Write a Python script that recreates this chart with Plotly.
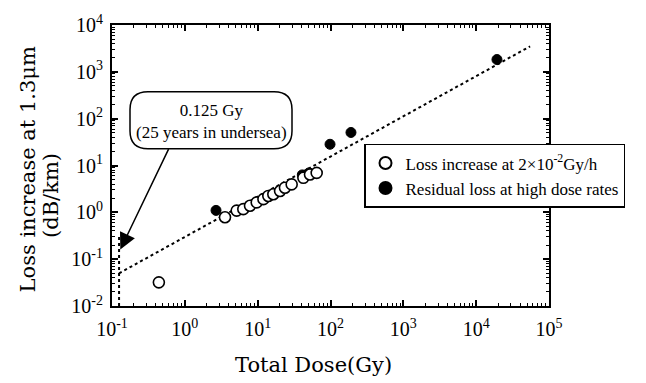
import numpy as np
import plotly.graph_objects as go

# ---- data ----
open_dose = [0.44, 3.56, 5.15, 6.35, 7.85, 9.7, 12.0, 14.0, 16.4, 20.3, 23.7, 29.3, 42.4, 52.3, 64.6]
open_loss = [0.032, 0.785, 1.09, 1.17, 1.38, 1.63, 1.91, 2.24, 2.43, 2.86, 3.36, 3.95, 5.46, 6.41, 6.95]

filled_dose = [2.68, 41.0, 50.7, 98.5, 191.0, 19300.0]
filled_loss = [1.10, 6.3, 6.95, 28.4, 50.7, 1830.0]

fit_dose = [0.125, 55000.0]
fit_loss = [0.05, 3500.0]

mark_dose = [0.125, 0.125]
mark_loss = [0.01, 0.3]

tick_vals_x = [0.1, 1, 10, 100, 1000, 10000, 100000]
tick_text_x = ["10<sup>-1</sup>", "10<sup>0</sup>", "10<sup>1</sup>", "10<sup>2</sup>",
               "10<sup>3</sup>", "10<sup>4</sup>", "10<sup>5</sup>"]
tick_vals_y = [0.01, 0.1, 1, 10, 100, 1000, 10000]
tick_text_y = ["10<sup>-2</sup>", "10<sup>-1</sup>", "10<sup>0</sup>", "10<sup>1</sup>",
               "10<sup>2</sup>", "10<sup>3</sup>", "10<sup>4</sup>"]
minor_digits = [2, 3, 4, 5, 6, 7, 8, 9]

legend_open = "Loss increase at 2\u00d710<sup>-2</sup>Gy/h"
legend_filled = "Residual loss at high dose rates"
box_text = "0.125 Gy<br>(25 years in undersea)"
x_title = "Total Dose(Gy)"
y_title1 = "Loss increase at 1.3\u03bcm"
y_title2 = "(dB/km)"

# ---- layout geometry ----
W, H = 646, 383
ML, MR, MT, MB = 112, 97, 20, 77
PW, PH = W - ML - MR, H - MT - MB


def px(x):
    return (x - ML) / PW


def py(y):
    return (MT + PH - y) / PH


def minor_vals(majors):
    return [m * d for m in majors[:-1] for d in minor_digits]


fig = go.Figure()

fig.add_trace(go.Scatter(x=fit_dose, y=fit_loss, mode="lines",
                         line=dict(color="black", width=2, dash="dot"),
                         showlegend=False, hoverinfo="skip"))
fig.add_trace(go.Scatter(x=mark_dose, y=mark_loss, mode="lines",
                         line=dict(color="black", width=2, dash="dot"),
                         showlegend=False, hoverinfo="skip"))
fig.add_trace(go.Scatter(x=filled_dose, y=filled_loss, mode="markers", name=legend_filled,
                         marker=dict(symbol="circle", size=10, color="black",
                                     line=dict(color="black", width=1)),
                         legendrank=2))
fig.add_trace(go.Scatter(x=open_dose, y=open_loss, mode="markers", name=legend_open,
                         marker=dict(symbol="circle", size=11, color="white",
                                     line=dict(color="black", width=1.6)),
                         legendrank=1))

axis_common = dict(type="log", showgrid=False, zeroline=False, showline=True,
                   linecolor="black", linewidth=2, mirror="allticks",
                   ticks="inside", ticklen=6, tickwidth=1.5, tickcolor="black",
                   tickfont=dict(family="Liberation Serif", size=20, color="black"))

fig.update_xaxes(range=[-1, 5], tickmode="array", tickvals=tick_vals_x, ticktext=tick_text_x,
                 ticklabelstandoff=4,
                 minor=dict(tickmode="array", tickvals=minor_vals(tick_vals_x), ticks="inside",
                            ticklen=3, tickwidth=1.2, tickcolor="black", showgrid=False),
                 **axis_common)
fig.update_yaxes(range=[-2, 4], tickmode="array", tickvals=tick_vals_y, ticktext=tick_text_y,
                 ticklabelstandoff=3,
                 minor=dict(tickmode="array", tickvals=minor_vals(tick_vals_y), ticks="inside",
                            ticklen=3, tickwidth=1.2, tickcolor="black", showgrid=False),
                 **axis_common)

# rounded annotation box
x0, x1, y0, y1, r = 130, 292, 88, 146, 18
path = (f"M {px(x0 + r)},{py(y0)} L {px(x1 - r)},{py(y0)} "
        f"Q {px(x1)},{py(y0)} {px(x1)},{py(y0 + r)} L {px(x1)},{py(y1 - r)} "
        f"Q {px(x1)},{py(y1)} {px(x1 - r)},{py(y1)} L {px(x0 + r)},{py(y1)} "
        f"Q {px(x0)},{py(y1)} {px(x0)},{py(y1 - r)} L {px(x0)},{py(y0 + r)} "
        f"Q {px(x0)},{py(y0)} {px(x0 + r)},{py(y0)} Z")
fig.add_shape(type="path", path=path, xref="paper", yref="paper",
              line=dict(color="black", width=1.5), fillcolor="white", layer="above")

annotations = [
    dict(text=box_text, x=px(211), y=py(118), xref="paper", yref="paper", showarrow=False,
         xanchor="center", yanchor="middle",
         font=dict(family="Liberation Serif", size=17, color="black")),
    dict(text="", x=np.log10(0.13), y=np.log10(0.16), xref="x", yref="y",
         ax=49, ay=-102, showarrow=True, arrowhead=2, arrowsize=2.2, arrowwidth=1.5,
         arrowcolor="black", standoff=0),
    dict(text=x_title, x=px(313), y=py(366), xref="paper", yref="paper", showarrow=False,
         xanchor="center", yanchor="middle",
         font=dict(family="DejaVu Serif", size=21, color="black")),
    dict(text=y_title1, x=px(28), y=py(167), xref="paper", yref="paper", showarrow=False,
         xanchor="center", yanchor="middle", textangle=-90,
         font=dict(family="DejaVu Serif", size=21, color="black")),
    dict(text=y_title2, x=px(51), y=py(194), xref="paper", yref="paper", showarrow=False,
         xanchor="center", yanchor="middle", textangle=-90,
         font=dict(family="DejaVu Serif", size=21, color="black")),
]

fig.update_layout(
    width=W, height=H,
    margin=dict(l=ML, r=MR, t=MT, b=MB, pad=0),
    paper_bgcolor="white", plot_bgcolor="white",
    annotations=annotations,
    showlegend=True,
    legend=dict(x=px(364), y=py(141), xanchor="left", yanchor="top",
                bordercolor="black", borderwidth=1.5, bgcolor="white",
                font=dict(family="Liberation Serif", size=17, color="black"),
                tracegroupgap=0, itemsizing="constant"),
)

fig.write_html("out.html")
